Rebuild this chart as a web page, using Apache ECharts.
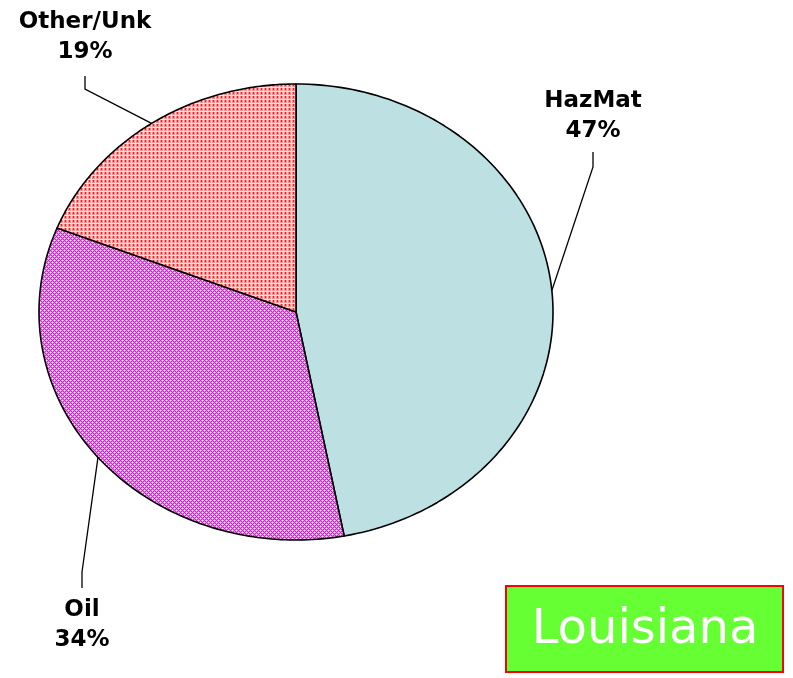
<!DOCTYPE html>
<html>
<head>
<meta charset="utf-8">
<script src="https://cdn.jsdelivr.net/npm/echarts@6/dist/echarts.min.js"></script>
<style>
  html, body { margin: 0; padding: 0; background: #fff; }
  #chart { width: 793px; height: 678px; }
</style>
</head>
<body>
<div id="chart"></div>
<script>
  // data
  const categories = ['HazMat', 'Oil', 'Other/Unk']
  const values = [47, 34, 19]
  const title = 'Louisiana'

  // label elbow / text anchor (layout only)
  const labelLayout = [
    { elbow: [593, 167], end: [593, 152], text: [593, 116] },
    { elbow: [82, 572], end: [82, 588], text: [82, 625] },
    { elbow: [85, 89], end: [85, 76], text: [85, 37] }
  ]

  const makePattern = (size, draw) => {
    const c = document.createElement('canvas')
    c.width = size
    c.height = size
    draw(c.getContext('2d'))
    return { image: c, repeat: 'repeat' }
  }

  const dotsRed = makePattern(4, ctx => {
    ctx.fillStyle = '#ffe0e0'
    ctx.fillRect(0, 0, 4, 4)
    ctx.fillStyle = '#ff8c8c'
    ctx.fillRect(0, 0, 3, 3)
    ctx.fillStyle = '#ff1a1a'
    ctx.fillRect(1, 0, 1, 2)
  })

  const hatchMagenta = makePattern(4, ctx => {
    ctx.fillStyle = '#ff8cff'
    ctx.fillRect(0, 0, 4, 4)
    ctx.fillStyle = '#ff00ff'
    for (let x = 0; x < 4; x++) {
      for (let y = 0; y < 4; y++) {
        if ((x + y) % 4 === 0 || (x - y + 4) % 4 === 0) ctx.fillRect(x, y, 1, 1)
      }
    }
    ctx.fillStyle = '#ffffff'
    ctx.fillRect(2, 0, 1, 1)
    ctx.fillRect(0, 2, 1, 1)
  })

  const fills = ['#bde0e2', hatchMagenta, dotsRed]

  const chart = echarts.init(document.getElementById('chart'))

  const cx = 296
  const cy = 312
  const rx = 257
  const ry = 228
  const total = values.reduce((a, b) => a + b, 0)

  const pt = a => [cx + rx * Math.sin(a), cy - ry * Math.cos(a)]

  const renderItem = (params, api) => {
    const i = params.dataIndex
    let start = 0
    for (let k = 0; k < i; k++) start += values[k]
    const a0 = start / total * Math.PI * 2
    const a1 = (start + api.value(0)) / total * Math.PI * 2
    const pts = [[cx, cy]]
    const n = 120
    for (let s = 0; s <= n; s++) {
      pts.push(pt(a0 + (a1 - a0) * s / n))
    }
    const mid = pt((a0 + a1) / 2)
    const lay = labelLayout[i]
    const pct = Math.round(api.value(0) / total * 100) + '%'
    return {
      type: 'group',
      children: [
        {
          type: 'polygon',
          shape: { points: pts },
          style: { fill: fills[i], stroke: '#000', lineWidth: 1.6, lineJoin: 'round' }
        },
        {
          type: 'polyline',
          shape: { points: [mid, lay.elbow, lay.end] },
          style: { fill: null, stroke: '#000', lineWidth: 1.3 }
        },
        {
          type: 'text',
          style: {
            text: categories[i] + '\n' + pct,
            x: lay.text[0],
            y: lay.text[1],
            align: 'center',
            verticalAlign: 'middle',
            font: 'bold 23px "DejaVu Sans"',
            lineHeight: 30,
            fill: '#000'
          }
        }
      ]
    }
  }

  const option = {
    backgroundColor: '#fff',
    animation: false,
    series: [{
      type: 'custom',
      coordinateSystem: 'none',
      renderItem: renderItem,
      data: values.map(v => [v])
    }],
    graphic: [{
      type: 'group',
      left: 505,
      top: 585,
      children: [
        {
          type: 'rect',
          shape: { x: 0, y: 0, width: 277, height: 86 },
          style: { fill: '#66ff33', stroke: '#ff0000', lineWidth: 2 }
        },
        {
          type: 'text',
          style: {
            text: title,
            x: 139,
            y: 45,
            align: 'center',
            verticalAlign: 'middle',
            font: '48px "DejaVu Sans"',
            fill: '#fff'
          }
        }
      ]
    }]
  }

  chart.setOption(option)
</script>
</body>
</html>
